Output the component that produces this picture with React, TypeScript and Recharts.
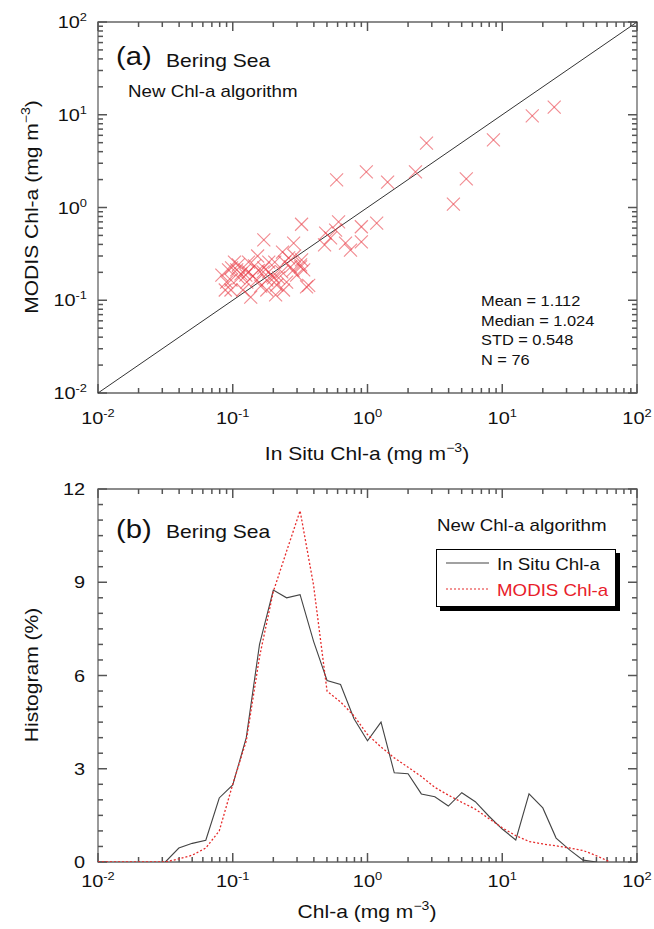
import React from 'react';
import {
  ScatterChart,
  Scatter,
  LineChart,
  Line,
  XAxis,
  YAxis,
  ReferenceArea,
  ReferenceLine,
  Legend,
} from 'recharts';

const FONT = '"Liberation Sans", Arial, Helvetica, sans-serif';
const SX = 1.17;
const AXIS = '#666666';
const TICK = '#555555';
const INK = '#111111';
const RED = '#e62b2b';

// ---------- Panel (a): matchups ----------
const inSituChl = [
  24.3, 16.7, 8.6, 2.74, 2.27, 5.41, 4.34, 1.41, 0.98, 0.59,
  0.324, 0.61, 0.9, 1.17, 0.489, 0.532, 0.58, 0.48, 0.687, 0.748,
  0.9, 0.324, 0.319, 0.17, 0.283, 0.153, 0.098, 0.125, 0.09, 0.097,
  0.136, 0.208, 0.201, 0.353, 0.269, 0.319, 0.212, 0.179, 0.17, 0.107,
  0.115, 0.123, 0.131, 0.141, 0.111, 0.103, 0.083, 0.151, 0.185, 0.198,
  0.219, 0.231, 0.243, 0.26, 0.234, 0.288, 0.298, 0.251, 0.161, 0.088,
  0.119, 0.185, 0.168, 0.366, 0.336, 0.097, 0.127, 0.145, 0.205, 0.179,
  0.131, 0.238, 0.093, 0.11, 0.28, 0.155,
];
const modisChl = [
  12.1, 9.7, 5.35, 4.95, 2.42, 2.03, 1.09, 1.88, 2.42, 1.98,
  0.66, 0.7, 0.62, 0.68, 0.53, 0.47, 0.57, 0.395, 0.414, 0.348,
  0.425, 0.272, 0.229, 0.447, 0.414, 0.3, 0.223, 0.187, 0.157, 0.129,
  0.108, 0.114, 0.174, 0.139, 0.229, 0.24, 0.146, 0.165, 0.223, 0.212,
  0.192, 0.212, 0.202, 0.182, 0.174, 0.258, 0.187, 0.165, 0.202, 0.182,
  0.174, 0.202, 0.258, 0.286, 0.331, 0.3, 0.187, 0.157, 0.142, 0.129,
  0.129, 0.258, 0.202, 0.145, 0.212, 0.165, 0.157, 0.235, 0.258, 0.129,
  0.258, 0.129, 0.212, 0.24, 0.21, 0.21,
];
const statLines = ['Mean = 1.112', 'Median = 1.024', 'STD = 0.548', 'N = 76'];

const decadeTicks = [0.01, 0.1, 1, 10, 100];
const decadeExponents = ['-2', '-1', '0', '1', '2'];
const minorMultipliers = [2, 3, 4, 5, 6, 7, 8, 9];

// ---------- Panel (b): histograms ----------
const histBins = [
  0.01, 0.0126, 0.0158, 0.02, 0.0251, 0.0316, 0.0398, 0.0501, 0.0631, 0.0794,
  0.1, 0.126, 0.158, 0.2, 0.251, 0.316, 0.398, 0.501, 0.631, 0.794,
  1, 1.26, 1.58, 2, 2.51, 3.16, 3.98, 5.01, 6.31, 7.94,
  10, 12.6, 15.8, 20, 25.1, 31.6, 39.8, 50.1, 63.1,
];
const histInSitu = [
  null, null, null, null, null, 0, 0.45, 0.6, 0.7, 2.06,
  2.48, 4.0, 7.0, 8.75, 8.5, 8.6, 7.1, 5.84, 5.71, 4.61,
  3.9, 4.5, 2.87, 2.84, 2.19, 2.1, 1.8, 2.23, 1.94, 1.48,
  1.06, 0.71, 2.19, 1.74, 0.77, 0.39, 0.06, 0, null,
];
const histModis = [
  0, 0, 0, 0, 0, 0, 0.1, 0.22, 0.45, 1.0,
  2.5, 3.9, 6.6, 8.7, 10.0, 11.3, 8.9, 5.5, 5.15, 4.7,
  4.1, 3.7, 3.35, 3.05, 2.75, 2.4, 2.15, 1.92, 1.7, 1.4,
  1.1, 0.85, 0.66, 0.58, 0.52, 0.45, 0.37, 0.2, 0,
];
const histMajorTicks = [0, 3, 6, 9, 12];
const histTickStep = 0.5;

// ---------- layout ----------
const W = 654;
const A_H = 460;
const A_TOP = 22;
const A_BOTTOM = 393;
const B_OFF = 470;
const B_H = 459;
const B_TOP = 19;
const B_BOTTOM = 391;
const PLOT_LEFT = 98;
const PLOT_RIGHT = 637;
const MAJOR_LEN = 9;
const MINOR_LEN = 5;

// pixel sizes used to express the inward tick lengths in axis units
const PX_PER_DECADE_X = (PLOT_RIGHT - PLOT_LEFT) / 4;
const PX_PER_DECADE_YA = (A_BOTTOM - A_TOP) / 4;
const PX_PER_UNIT_YB = (B_BOTTOM - B_TOP) / 12;

const logTicks: number[] = [];
decadeTicks.forEach((d, i) => {
  logTicks.push(d);
  if (i < decadeTicks.length - 1) minorMultipliers.forEach((m) => logTicks.push(+(d * m).toPrecision(3)));
});
const histTicks: number[] = [];
for (let v = 0; v <= 12 + 1e-9; v += histTickStep) histTicks.push(+v.toFixed(2));

const scatterData = inSituChl.map((x, i) => ({ x, y: modisChl[i] }));
const histData = histBins.map((x, i) => ({ x, insitu: histInSitu[i], modis: histModis[i] }));

const decadeIndex = (v: number) => decadeTicks.findIndex((d) => Math.abs(d - v) < d * 1e-6);
const logLen = (px: number, perDecade: number) => Math.pow(10, px / perDecade);

// ---------- tick marks as reference segments ----------
const xLogTickMarks = (yLo: number, yHi: number, upLo: (px: number) => number, downHi: (px: number) => number) =>
  logTicks.map((v) => {
    const px = decadeIndex(v) >= 0 ? MAJOR_LEN : MINOR_LEN;
    return [
      <ReferenceLine
        key={`xb${v}`}
        segment={[{ x: v, y: yLo }, { x: v, y: upLo(px) }]}
        stroke={TICK}
        strokeWidth={1.5}
        ifOverflow="visible"
      />,
      <ReferenceLine
        key={`xt${v}`}
        segment={[{ x: v, y: yHi }, { x: v, y: downHi(px) }]}
        stroke={TICK}
        strokeWidth={1.5}
        ifOverflow="visible"
      />,
    ];
  });

const yTickMarks = (vals: number[], isMajor: (v: number) => boolean) =>
  vals.map((v) => {
    const f = logLen(isMajor(v) ? MAJOR_LEN : MINOR_LEN, PX_PER_DECADE_X);
    return [
      <ReferenceLine
        key={`yl${v}`}
        segment={[{ x: 0.01, y: v }, { x: 0.01 * f, y: v }]}
        stroke={TICK}
        strokeWidth={1.5}
        ifOverflow="visible"
      />,
      <ReferenceLine
        key={`yr${v}`}
        segment={[{ x: 100, y: v }, { x: 100 / f, y: v }]}
        stroke={TICK}
        strokeWidth={1.5}
        ifOverflow="visible"
      />,
    ];
  });

// ---------- tick labels ----------
const makeXLogLabel = (labelDy: number) => (props: any) => {
  const x = Number(props.x);
  const y = Number(props.y);
  const idx = decadeIndex(props.payload.value);
  if (idx < 0) return <g />;
  return (
    <text
      transform={`translate(${x},${y + labelDy}) scale(${SX},1)`}
      textAnchor="middle"
      fontFamily={FONT}
      fontSize={17}
      fill={INK}
    >
      10
      <tspan dy={-7} fontSize={11}>
        {decadeExponents[idx]}
      </tspan>
    </text>
  );
};

const YLogLabel = (props: any) => {
  const x = Number(props.x);
  const y = Number(props.y);
  const idx = decadeIndex(props.payload.value);
  if (idx < 0) return <g />;
  return (
    <text
      transform={`translate(${x - 11},${y + 6}) scale(${SX},1)`}
      textAnchor="end"
      fontFamily={FONT}
      fontSize={17}
      fill={INK}
    >
      10
      <tspan dy={-7} fontSize={11}>
        {decadeExponents[idx]}
      </tspan>
    </text>
  );
};

const YHistLabel = (props: any) => {
  const x = Number(props.x);
  const y = Number(props.y);
  if (!histMajorTicks.includes(props.payload.value)) return <g />;
  return (
    <text
      transform={`translate(${x - 13},${y + 6}) scale(${SX},1)`}
      textAnchor="end"
      fontFamily={FONT}
      fontSize={17}
      fill={INK}
    >
      {props.payload.value}
    </text>
  );
};

const XMark = (props: any) => {
  const { cx, cy } = props;
  const r = 6.5;
  return (
    <g stroke="#e8404a" strokeOpacity={0.62} strokeWidth={1.1}>
      <line x1={cx - r} y1={cy - r} x2={cx + r} y2={cy + r} />
      <line x1={cx - r} y1={cy + r} x2={cx + r} y2={cy - r} />
    </g>
  );
};

const T = ({ x, y, size, anchor = 'start', rotate = false, color = INK, children }: any) => (
  <text
    transform={`translate(${x},${y}) ${rotate ? 'rotate(-90) ' : ''}scale(${SX},1)`}
    fontSize={size}
    textAnchor={anchor}
    fontFamily={FONT}
    fill={color}
  >
    {children}
  </text>
);

const Unit = () => (
  <>
    {' (mg m'}
    <tspan dy={-8} fontSize={12}>
      −3
    </tspan>
    <tspan dy={8}>)</tspan>
  </>
);

const LegendBox = (props: any) => {
  const items = props.payload || [];
  return (
    <div
      style={{
        width: 180,
        height: 58,
        boxSizing: 'border-box',
        border: '1.5px solid #000',
        background: '#fff',
        boxShadow: '4px 4px 0 #000',
      }}
    >
      <svg width={177} height={55} style={{ display: 'block' }}>
        {items.map((it: any, i: number) => (
          <g key={i}>
            <line
              x1={9}
              x2={52}
              y1={13 + i * 26}
              y2={13 + i * 26}
              stroke={it.color}
              strokeWidth={1.2}
              strokeDasharray={i === 1 ? '2 2' : undefined}
            />
            <T x={60} y={20 + i * 26} size={16} color={i === 1 ? '#e8202a' : INK}>
              {it.value}
            </T>
          </g>
        ))}
      </svg>
    </div>
  );
};

export default function App() {
  return (
    <div style={{ position: 'absolute', left: 0, top: 0, width: W, height: 929, background: '#fff' }}>
      <div style={{ position: 'absolute', left: 0, top: 0 }}>
        <ScatterChart width={W} height={A_H} margin={{ top: A_TOP, right: W - PLOT_RIGHT, bottom: 27, left: 0 }}>
          <ReferenceArea x1={0.01} x2={100} y1={0.01} y2={100} fill="#ffffff" fillOpacity={0} stroke={AXIS} strokeWidth={1.3} />
          <XAxis
            type="number"
            dataKey="x"
            scale="log"
            domain={[0.01, 100]}
            allowDataOverflow
            ticks={logTicks}
            interval={0}
            height={40}
            tickSize={0}
            tickMargin={0}
            tickLine={false}
            axisLine={false}
            tick={makeXLogLabel(31)}
          />
          <YAxis
            type="number"
            dataKey="y"
            scale="log"
            domain={[0.01, 100]}
            allowDataOverflow
            ticks={logTicks}
            interval={0}
            width={PLOT_LEFT}
            tickSize={0}
            tickMargin={0}
            tickLine={false}
            axisLine={false}
            tick={YLogLabel}
          />
          {xLogTickMarks(
            0.01,
            100,
            (px) => 0.01 * logLen(px, PX_PER_DECADE_YA),
            (px) => 100 / logLen(px, PX_PER_DECADE_YA),
          )}
          {yTickMarks(logTicks, (v) => decadeIndex(v) >= 0)}
          <ReferenceLine
            segment={[
              { x: 0.01, y: 0.01 },
              { x: 100, y: 100 },
            ]}
            stroke="#333"
            strokeWidth={1}
          />
          <Scatter data={scatterData} shape={XMark} isAnimationActive={false} />
        </ScatterChart>
      </div>

      <div style={{ position: 'absolute', left: 0, top: B_OFF }}>
        <LineChart width={W} height={B_H} data={histData} margin={{ top: B_TOP, right: W - PLOT_RIGHT, bottom: 27, left: 0 }}>
          <ReferenceArea x1={0.01} x2={100} y1={0} y2={12} fill="#ffffff" fillOpacity={0} stroke={AXIS} strokeWidth={1.3} />
          <XAxis
            type="number"
            dataKey="x"
            scale="log"
            domain={[0.01, 100]}
            allowDataOverflow
            ticks={logTicks}
            interval={0}
            height={40}
            tickSize={0}
            tickMargin={0}
            tickLine={false}
            axisLine={false}
            tick={makeXLogLabel(25)}
          />
          <YAxis
            type="number"
            domain={[0, 12]}
            allowDataOverflow
            ticks={histTicks}
            interval={0}
            width={PLOT_LEFT}
            tickSize={0}
            tickMargin={0}
            tickLine={false}
            axisLine={false}
            tick={YHistLabel}
          />
          {xLogTickMarks(
            0,
            12,
            (px) => px / PX_PER_UNIT_YB,
            (px) => 12 - px / PX_PER_UNIT_YB,
          )}
          {yTickMarks(histTicks, (v) => histMajorTicks.includes(v))}
          <Line
            dataKey="insitu"
            name="In Situ Chl-a"
            stroke="#444"
            strokeWidth={1.1}
            dot={false}
            isAnimationActive={false}
          />
          <Line
            dataKey="modis"
            name="MODIS Chl-a"
            stroke={RED}
            strokeWidth={1.3}
            strokeDasharray="2 2"
            dot={false}
            isAnimationActive={false}
          />
          <Legend
            layout="horizontal"
            verticalAlign="middle"
            align="center"
            wrapperStyle={{ position: 'absolute', left: 436, top: 79, width: 180, height: 58 }}
            content={LegendBox}
          />
        </LineChart>
      </div>

      <svg
        width={W}
        height={929}
        style={{ position: 'absolute', left: 0, top: 0, pointerEvents: 'none' }}
      >
        <T x={116} y={65} size={25}>(a)</T>
        <T x={166} y={66.5} size={18}>Bering Sea</T>
        <T x={128} y={96.5} size={16}>New Chl-a algorithm</T>
        {statLines.map((s, i) => (
          <T key={s} x={481} y={306 + i * 19.7} size={14}>
            {s}
          </T>
        ))}
        <T x={367} y={460} size={18} anchor="middle">
          In Situ Chl-a
          <Unit />
        </T>
        <T x={38} y={207} size={18} anchor="middle" rotate>
          MODIS Chl-a
          <Unit />
        </T>

        <T x={116} y={538} size={25}>(b)</T>
        <T x={166} y={537.5} size={18}>Bering Sea</T>
        <T x={437} y={530.5} size={16}>New Chl-a algorithm</T>
        <T x={367} y={918} size={18} anchor="middle">
          Chl-a
          <Unit />
        </T>
        <T x={38} y={675} size={18} anchor="middle" rotate>
          Histogram (%)
        </T>
      </svg>
    </div>
  );
}
